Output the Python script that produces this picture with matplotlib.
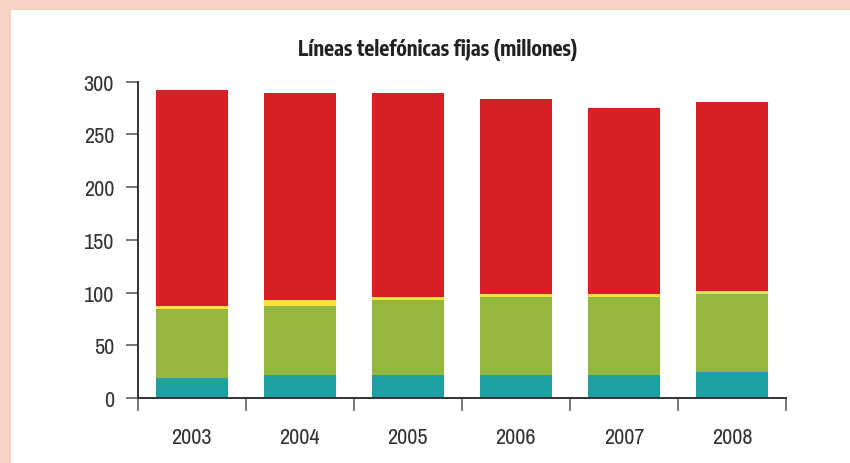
import numpy as np
import matplotlib.pyplot as plt
from matplotlib.patches import Rectangle

plt.rcParams['font.family'] = ['Archivo Narrow', 'DejaVu Sans']

years = ['2003', '2004', '2005', '2006', '2007', '2008']
teal = [19, 22, 22, 22, 22, 25]
green = [65.5, 65.5, 71, 74, 74, 74]
yellow = [3, 5.5, 3, 3, 3, 2.5]
red = [204.5, 196.5, 193.5, 185, 176, 179.5]

colors = ['#1FA0A2', '#96B73E', '#F6E23E', '#D91F26']
series = [teal, green, yellow, red]

fig = plt.figure(figsize=(8.5, 4.64), dpi=100, facecolor='#F7D2C4')
# white panel inside the pink frame
fig.patches.append(Rectangle((11 / 850, 0), 1, 1 - 11 / 464, transform=fig.transFigure,
                             facecolor='white', edgecolor='none', zorder=-5))

ax = fig.add_axes([137.7 / 850, 65 / 464, (786 - 137.7) / 850, (399 - 82.7) / 464])
ax.set_facecolor('none')
ax.set_zorder(2)

x = np.arange(len(years))
bottom = np.zeros(len(years))
for vals, c in zip(series, colors):
    ax.bar(x, vals, width=0.67, bottom=bottom, color=c, edgecolor='none')
    bottom += np.array(vals)

ax.set_xlim(-0.5, len(years) - 0.5)
ax.set_ylim(0, 300)
ax.set_yticks([0, 50, 100, 150, 200, 250, 300])

ax.set_xticks(np.arange(len(years) + 1) - 0.5)
ax.set_xticklabels([])
ax.set_xticks(x, minor=True)
ax.set_xticklabels(years, minor=True)
ax.tick_params(axis='x', which='minor', length=0, pad=21, labelsize=16, labelcolor='#333333')
ax.tick_params(axis='x', which='major', direction='out', length=9, width=1.4, color='#777777')
ax.tick_params(axis='y', direction='out', length=9, width=1.4, color='#777777',
               pad=8, labelsize=16, labelcolor='#333333')

for s in ['top', 'right']:
    ax.spines[s].set_visible(False)
for s in ['left', 'bottom']:
    ax.spines[s].set_color('#333333')
    ax.spines[s].set_linewidth(1.4)

fig.text(437.5 / 850, 1 - 50 / 464, 'Líneas telefónicas fijas (millones)',
         ha='center', va='center', fontsize=14.8, color='#222222', fontweight='bold',
         family=['Encode Sans Condensed', 'Archivo Narrow', 'DejaVu Sans'])

fig.savefig('out.png', dpi=100, facecolor=fig.get_facecolor())
